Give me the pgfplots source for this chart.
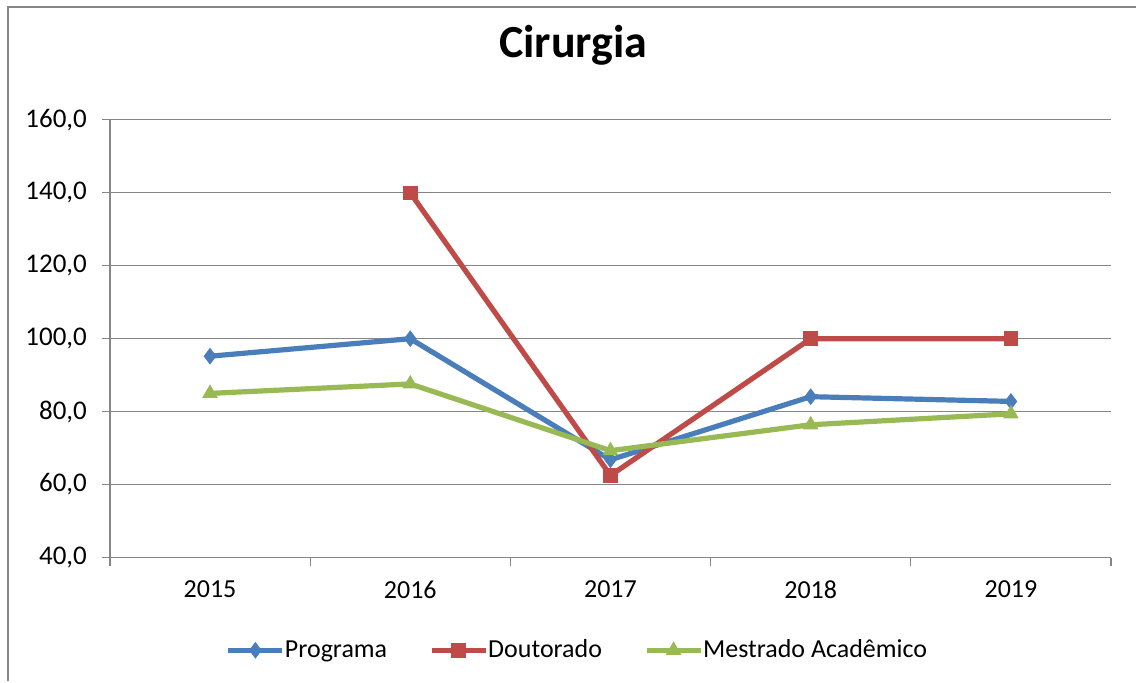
\documentclass[border=0pt]{standalone}
\usepackage{pgfplots}
\pgfplotsset{compat=1.18}
\usepackage{fontspec}
\setmainfont{Carlito}
\definecolor{cblue}{HTML}{4A7EBB}
\definecolor{cred}{HTML}{BE4B48}
\definecolor{cgreen}{HTML}{98B954}
\definecolor{cgrid}{HTML}{868686}
\begin{document}
\begin{tikzpicture}
\path (0pt,0pt) rectangle (568.5pt,341pt);
\draw[cgrid, line width=1pt] (4pt,0pt) -- (4pt,337.5pt) -- (568.5pt,337.5pt);
\begin{axis}[
  at={(55pt,62pt)}, anchor=south west,
  scale only axis, width=501pt, height=219pt,
  xmin=-0.5, xmax=4.5, ymin=40, ymax=160,
  xtick={0,1,2,3,4}, xticklabels={2015,2016,2017,2018,2019},
  minor xtick={-0.5,0.5,1.5,2.5,3.5,4.5},
  major x tick style={draw=none},
  minor x tick style={cgrid, line width=0.6pt},
  ytick={40,60,...,160},
  ymajorgrids, grid style={cgrid, line width=0.6pt},
  tick align=outside, major tick length=4pt, minor tick length=4pt,
  y tick style={cgrid, line width=0.6pt},
  axis x line*=bottom, axis y line*=left,
  axis line style={cgrid, line width=0.6pt, -},
  tick label style={font=\fontsize{13}{15}\selectfont},
  xticklabel style={yshift=-4pt},
  yticklabel style={xshift=-4pt, font=\fontsize{13.5}{15}\selectfont},
  /pgf/number format/.cd, fixed, fixed zerofill, precision=1, use comma, assume math mode=true,
  /pgfplots/.cd,
  title={\bfseries Cirurgia}, title style={font=\fontsize{23}{27}\selectfont\bfseries, at={(0.463,1)}, anchor=base, yshift=25pt},
  legend columns=3,
  legend style={at={(0.468,-0.212)}, anchor=center, draw=none, font=\fontsize{13}{15}\selectfont,
    /tikz/every even column/.append style={column sep=19pt},
    /tikz/every odd column/.append style={column sep=-2pt}},
  legend image code/.code={\draw[#1] (0pt,0pt) -- (27pt,0pt); \draw[#1, mark repeat=1] plot coordinates {(13.5pt,0pt)};},
]
\addplot[cblue, line width=2.6pt, mark=diamond*, mark size=3.8pt, mark options={line width=0.5pt}] coordinates {(0,95.2) (1,100) (2,66.8) (3,84.1) (4,82.8)};
\addlegendentry{Programa}
\addplot[cred, line width=2.6pt, mark=square*, mark size=3.4pt, mark options={line width=0.5pt}] coordinates {(1,140) (2,62.5) (3,100) (4,100)};
\addlegendentry{Doutorado}
\addplot[cgreen, line width=2.6pt, mark=triangle*, mark size=4pt, mark options={line width=0.5pt}] coordinates {(0,85.0) (1,87.6) (2,69.3) (3,76.4) (4,79.4)};
\addlegendentry{Mestrado Acadêmico}
\end{axis}
\end{tikzpicture}
\end{document}
